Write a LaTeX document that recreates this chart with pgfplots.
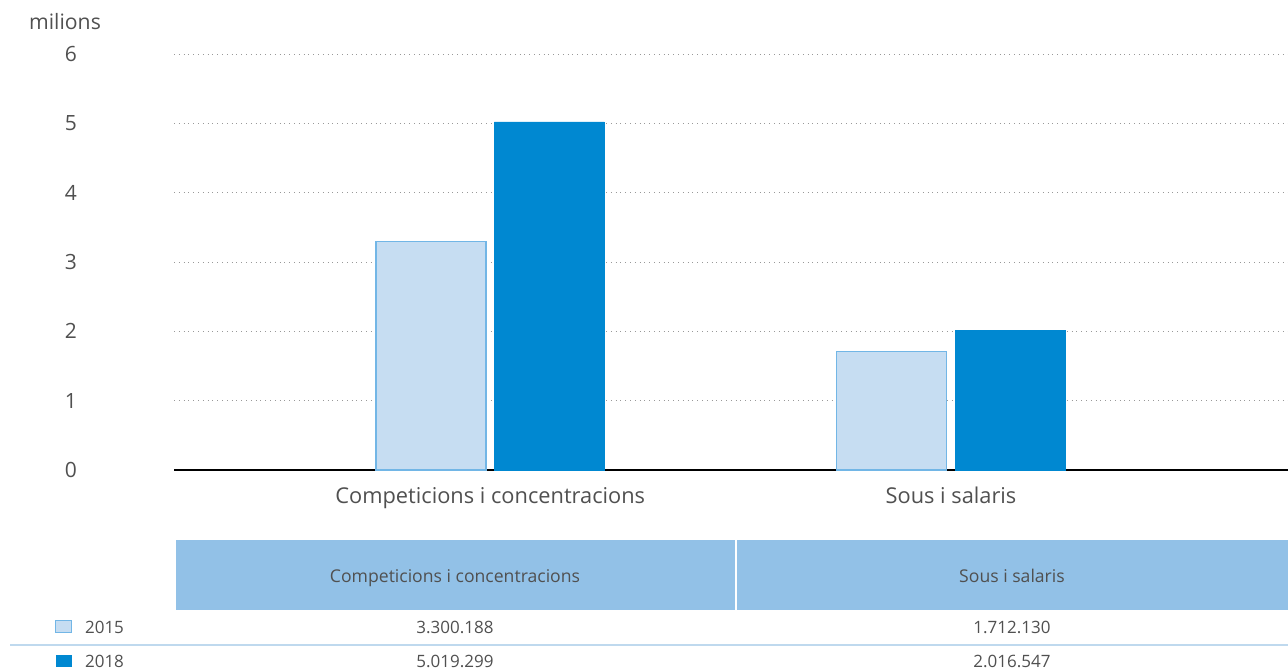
\documentclass[border=0pt]{standalone}
\usepackage{pgfplots}
\pgfplotsset{compat=1.18}
\usepackage{fontspec}
\setmainfont{Open Sans}
\definecolor{txt}{HTML}{505050}
\definecolor{light}{HTML}{C6DDF2}
\definecolor{lightedge}{HTML}{72B6E6}
\definecolor{dark}{HTML}{0088D1}
\definecolor{head}{HTML}{92C1E7}
\definecolor{sep}{HTML}{BFD9EE}
\definecolor{gridc}{HTML}{999999}

\begin{document}
\begin{tikzpicture}
% page is 1288x671 px at 0.5pt per px
\path[use as bounding box] (0,0) rectangle (644pt,335.5pt);

\begin{axis}[
    at={(87pt,100.5pt)}, anchor=south west,
    scale only axis, width=557pt, height=208pt,
    ybar, bar width=55pt,
    xmin=-0.6864, xmax=1.7314,
    ymin=0, ymax=6,
    ytick={0,1,...,6},
    xtick={0,1},
    xticklabels={Competicions i concentracions, Sous i salaris},
    axis x line*=bottom, axis y line*=left,
    x axis line style={black, line width=0.7pt, -},
    y axis line style={draw=none},
    major tick length=0pt,
    ymajorgrids, grid style={gridc, dotted, line width=0.5pt},
    /pgf/number format/assume math mode=true,
    tick label style={text=txt},
    yticklabel style={font=\fontsize{10.5}{12}\selectfont, anchor=east, xshift=-45pt},
    xticklabel style={font=\fontsize{10.9}{12}\selectfont, yshift=-5pt},
    clip=false,
  ]
  \addplot[fill=light, draw=lightedge, line width=0.6pt, bar shift=-29.6pt]
    coordinates {(0,3.300188) (1,1.712130)};
  \addplot[fill=dark, draw=dark, line width=0.4pt, bar shift=29.6pt]
    coordinates {(0,5.019299) (1,2.016547)};
\end{axis}

\node[text=txt, font=\fontsize{10.6}{12}\selectfont] at (32.5pt,324.5pt) {milions};

% table below the chart
\fill[head] (88pt,30.5pt) rectangle (367.5pt,65.5pt);
\fill[head] (368.5pt,30.5pt) rectangle (644pt,65.5pt);
\node[text=txt, font=\fontsize{8.8}{10}\selectfont, anchor=base] at (227.5pt,44.5pt) {Competicions i concentracions};
\node[text=txt, font=\fontsize{8.8}{10}\selectfont, anchor=base] at (506pt,44.5pt) {Sous i salaris};

\draw[sep, line width=0.8pt] (5pt,13pt) -- (644pt,13pt);

\fill[light, draw=lightedge, line width=0.5pt] (27.75pt,19.25pt) rectangle (35.75pt,25.25pt);
\fill[dark] (27.75pt,2pt) rectangle (35.75pt,8pt);
\node[text=txt, font=\fontsize{8.5}{10}\selectfont, anchor=base west] at (39pt,19pt) {2015};
\node[text=txt, font=\fontsize{8.5}{10}\selectfont, anchor=base west] at (39pt,2pt) {2018};

\node[text=txt, font=\fontsize{8.5}{10}\selectfont, anchor=base] at (227.5pt,19pt) {3.300.188};
\node[text=txt, font=\fontsize{8.5}{10}\selectfont, anchor=base] at (506pt,19pt) {1.712.130};
\node[text=txt, font=\fontsize{8.5}{10}\selectfont, anchor=base] at (227.5pt,2pt) {5.019.299};
\node[text=txt, font=\fontsize{8.5}{10}\selectfont, anchor=base] at (506pt,2pt) {2.016.547};
\end{tikzpicture}
\end{document}
